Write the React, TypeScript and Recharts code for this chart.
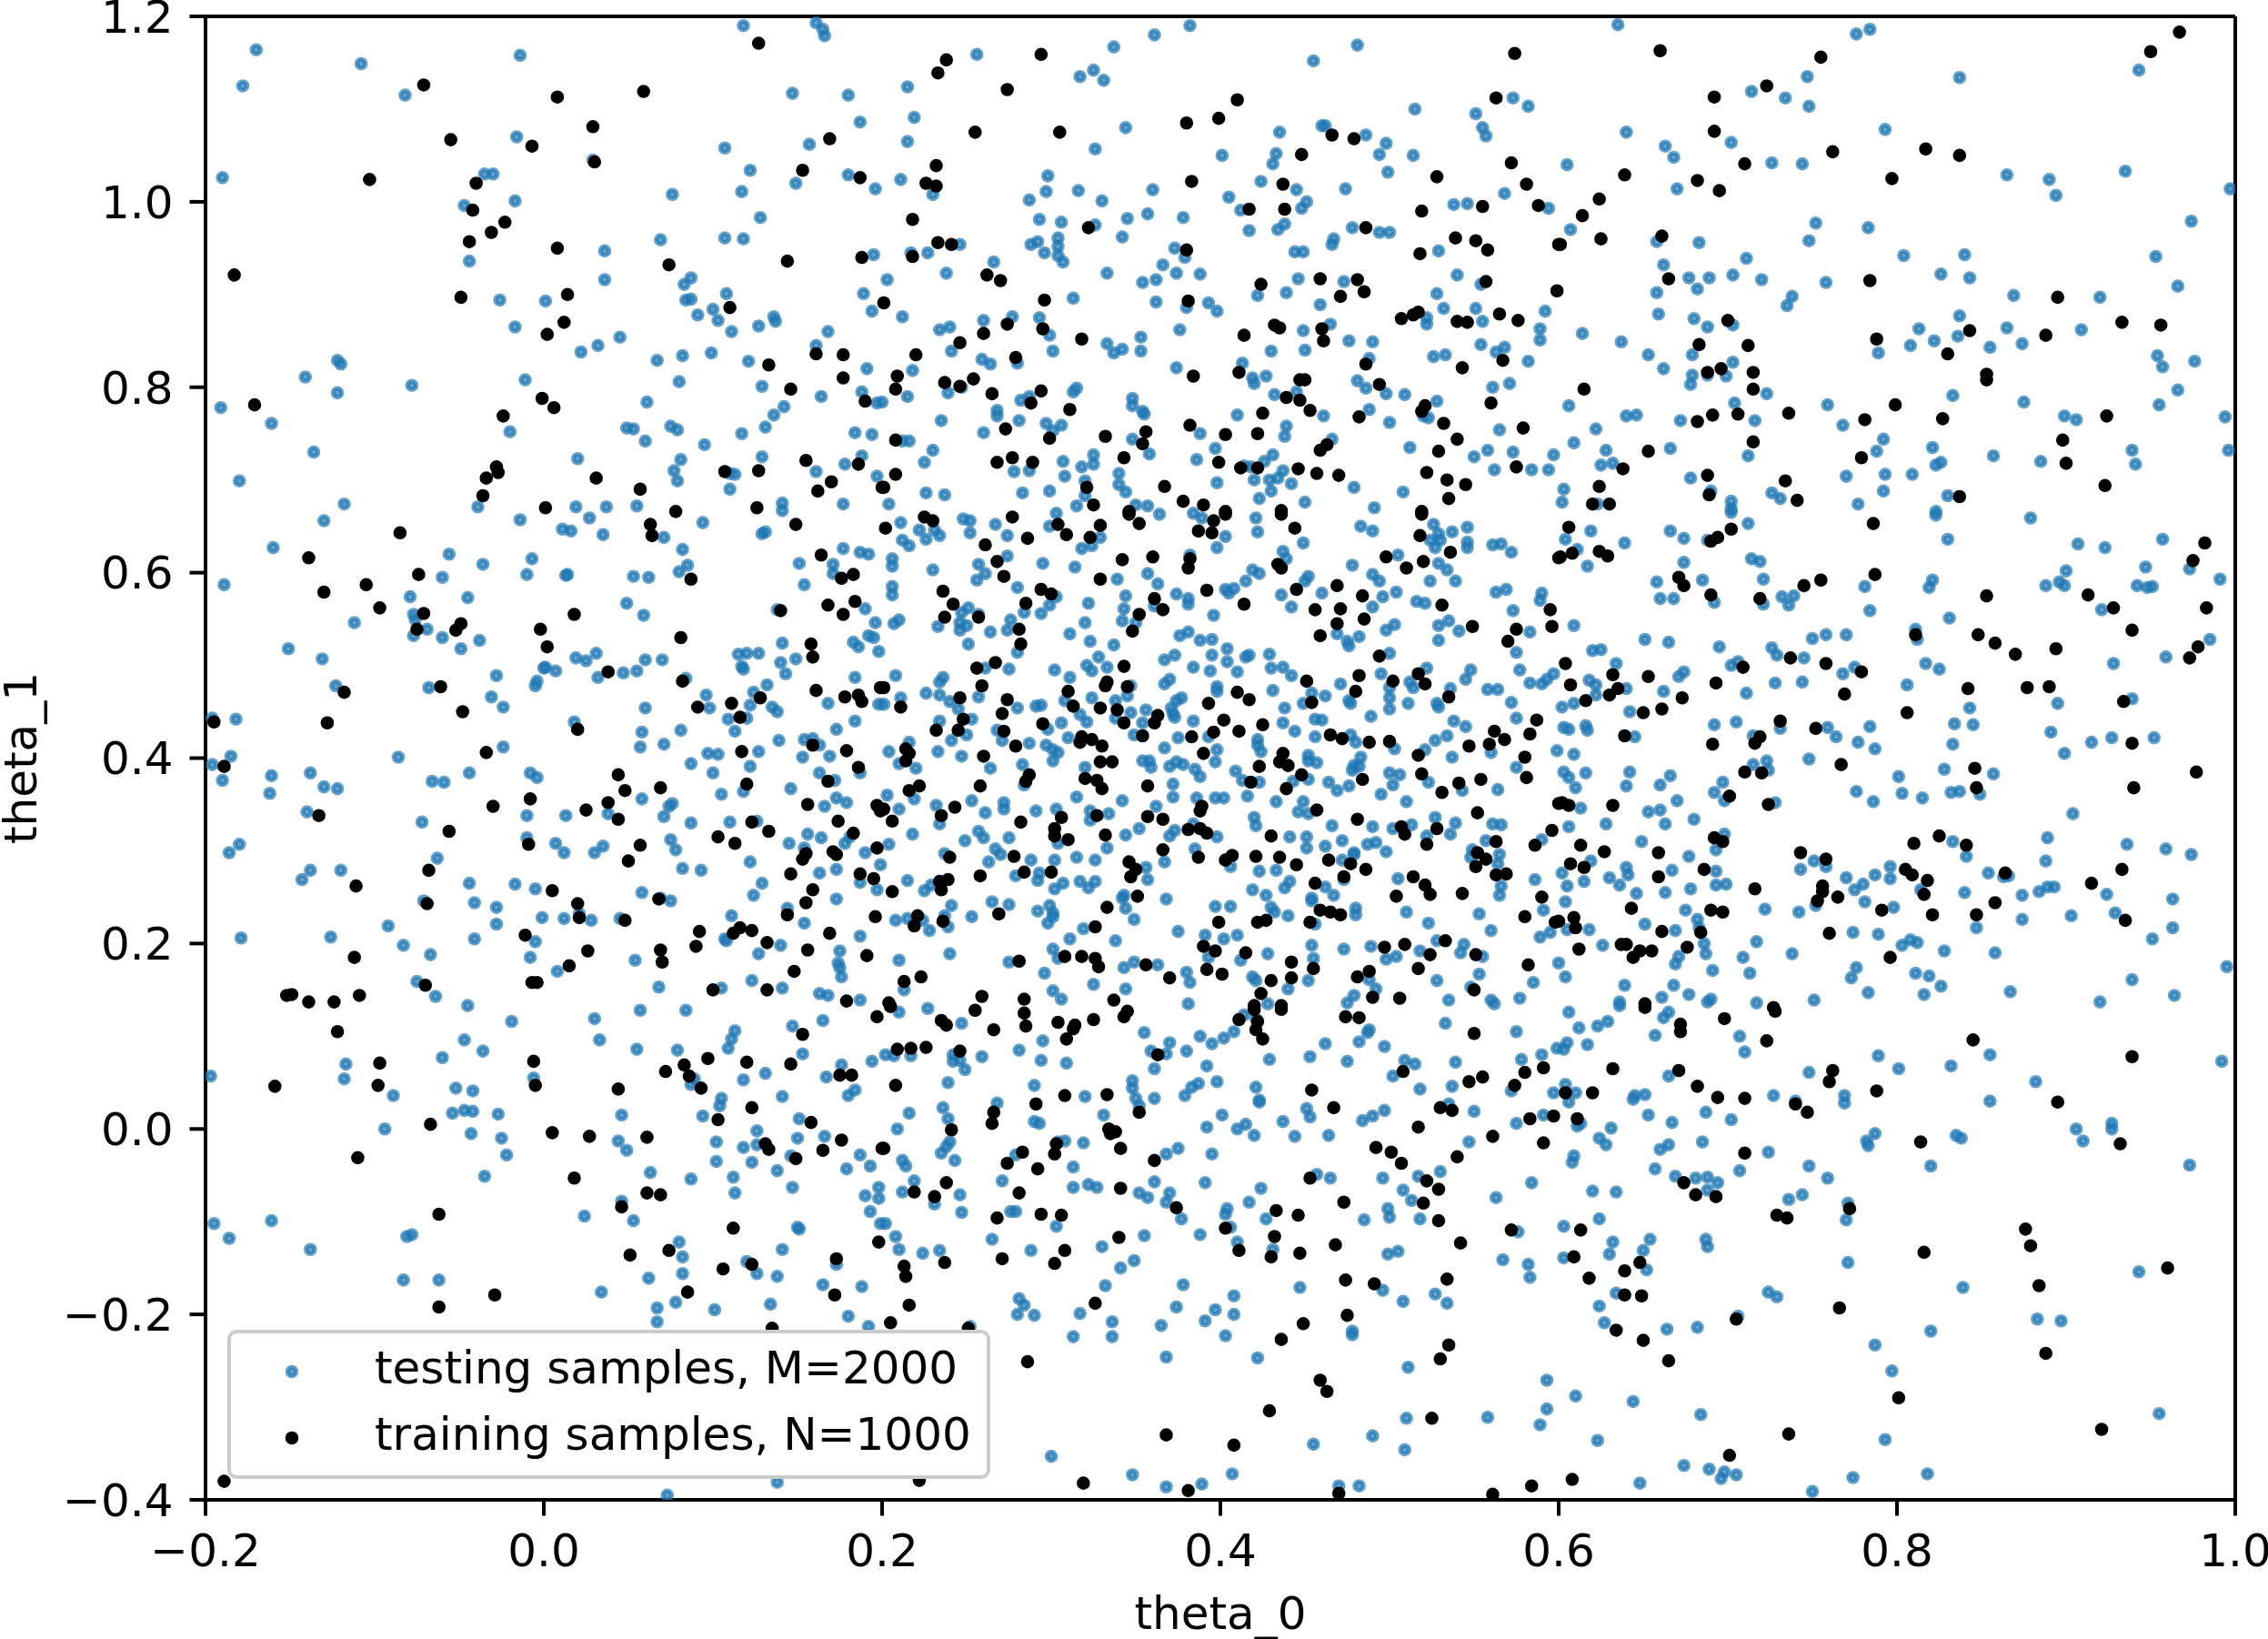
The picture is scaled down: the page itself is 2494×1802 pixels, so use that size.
import { ScatterChart, Scatter, XAxis, YAxis, Legend, ReferenceLine } from "recharts";

const xTicks = [-0.2, 0, 0.2, 0.4, 0.6, 0.8, 1];
const yTicks = [-0.4, -0.2, 0, 0.2, 0.4, 0.6, 0.8, 1, 1.2];
const testingLabel = "testing samples, M=2000";
const trainingLabel = "training samples, N=1000";

// samples, one list per region of the plot: [theta_0, theta_1]
const testingTopLeft = [[-.170,1.164],[-.178,1.125],[-.108,1.149],[-.082,1.115],[-.014,1.158],[.118,1.190],[.161,1.193],[.165,1.186],[.166,1.179],[.147,1.117],[.180,1.115],[.187,1.086],[-.016,1.070],[.107,1.058],[.157,1.062],[-.190,1.026],[-.035,1.030],[-.030,1.030],[.029,1.045],[.122,1.034],[.180,1.029],[.149,1.020],[.196,1.014],[.076,1.008],[.117,1.011],[-.047,.996],[-.017,1.001],[.128,.983],[.069,.959],[.107,.961],[.118,.960],[.036,.947],[-.044,.936],[.195,.943],[.036,.916],[.087,.918],[.083,.911],[-.026,.894],[.001,.893],[.084,.894],[.087,.895],[.108,.901],[.189,.901],[.100,.884],[.091,.878],[.103,.872],[.194,.882],[.136,.876],[.137,.871],[.127,.866],[-.017,.865],[.111,.860],[.168,.860],[.045,.854],[.032,.845],[.022,.838],[.161,.845],[.067,.829],[.082,.834],[.099,.837],[.121,.828],[-.122,.829],[-.120,.825],[.191,.820],[-.141,.811],[-.011,.808],[.080,.806],[-.078,.802],[-.122,.794],[.129,.801],[.188,.795],[.164,.790],[-.191,.778],[.061,.784],[.142,.779],[.197,.783],[-.161,.761],[.136,.770],[-.020,.752],[.049,.756],[.053,.755],[.075,.758],[.079,.754],[.131,.757],[.117,.750],[.184,.751],[.194,.749],[.060,.742],[.095,.738],[-.136,.730],[.020,.723],[.081,.722],[.129,.725],[.188,.726],[.178,.717],[.077,.710],[.161,.709],[.079,.699],[.110,.707],[.113,.706],[-.180,.699],[.197,.704],[.110,.690],[-.118,.674],[-.039,.671],[.019,.671],[.037,.671],[.055,.672],[.141,.675],[.177,.674],[.141,.667]];
const trainingTopLeft = [[.127,1.171],[-.071,1.126],[.008,1.113],[.059,1.119],[.029,1.081],[-.055,1.067],[-.007,1.060],[.169,1.068],[.030,1.043],[.153,1.034],[-.103,1.024],[.187,1.026],[-.040,1.020],[-.042,.991],[-.023,.978],[-.031,.967],[-.044,.957],[.008,.950],[.074,.932],[.144,.936],[.188,.940],[-.183,.921],[-.049,.897],[.014,.900],[.110,.886],[.012,.870],[.002,.857],[.161,.836],[.177,.835],[.133,.824],[.177,.810],[.146,.798],[.190,.785],[-.171,.781],[-.001,.788],[.006,.778],[-.024,.769],[-.028,.714],[-.027,.708],[-.034,.702],[-.036,.683],[.031,.702],[.057,.690],[.107,.709],[.127,.710],[.155,.721],[.186,.717],[.170,.698],[.162,.688],[.200,.692],[.001,.670],[.078,.666],[.126,.670],[.201,.891]];

const testingTopMid = [[.382,1.190],[.361,1.180],[.337,1.167],[.256,1.159],[.481,1.169],[.455,1.152],[.325,1.142],[.317,1.135],[.331,1.131],[.215,1.124],[.219,1.091],[.344,1.080],[.515,1.100],[.573,1.112],[.582,1.103],[.551,1.095],[.460,1.082],[.462,1.082],[.435,1.075],[.486,1.072],[.555,1.080],[.557,1.071],[.215,1.065],[.326,1.057],[.401,1.050],[.498,1.063],[.494,1.051],[.514,1.050],[.433,1.052],[.431,1.041],[.499,1.032],[.211,1.024],[.298,1.028],[.424,1.022],[.297,1.011],[.316,1.012],[.360,1.013],[.445,1.013],[.474,1.014],[.230,1.008],[.287,1.002],[.330,1.001],[.405,1.005],[.451,1.0],[.448,.993],[.568,1.009],[.538,.997],[.546,.998],[.412,.991],[.594,.993],[.293,.981],[.306,.978],[.345,.982],[.357,.987],[.378,.983],[.326,.975],[.438,.976],[.417,.969],[.434,.970],[.478,.972],[.494,.967],[.500,.967],[.342,.962],[.304,.961],[.292,.957],[.288,.954],[.246,.954],[.304,.952],[.373,.950],[.467,.960],[.466,.954],[.296,.945],[.304,.942],[.217,.945],[.227,.945],[.444,.946],[.449,.946],[.379,.940],[.529,.947],[.307,.935],[.266,.935],[.366,.932],[.238,.923],[.333,.923],[.374,.923],[.388,.922],[.203,.916],[.362,.916],[.354,.913],[.446,.917],[.473,.914],[.540,.921],[.554,.911],[.422,.899],[.439,.902],[.528,.901],[.313,.896],[.362,.892],[.393,.891],[.459,.889],[.380,.886],[.398,.882],[.532,.885],[.551,.885],[.592,.882],[.212,.876],[.260,.872],[.277,.876],[.293,.875],[.522,.875],[.522,.868],[.465,.868],[.555,.871],[.240,.865],[.234,.862],[.376,.862],[.449,.861],[.589,.863],[.299,.856],[.353,.854],[.476,.850],[.490,.849],[.589,.851],[.333,.847],[.241,.839],[.301,.839],[.342,.841],[.337,.837],[.353,.839],[.430,.839],[.450,.840],[.554,.846],[.568,.843],[.563,.838],[.259,.830],[.264,.825],[.526,.833],[.533,.835],[.280,.826],[.413,.826],[.488,.831],[.582,.828],[.218,.818],[.374,.821],[.427,.812],[.419,.810],[.420,.804],[.481,.807],[.486,.799],[.571,.804],[.561,.800],[.315,.799],[.313,.795],[.247,.800],[.239,.794],[.215,.790],[.2,.784],[.445,.795],[.432,.792],[.498,.793],[.509,.792],[.287,.790],[.282,.786],[.348,.788],[.348,.780],[.528,.785],[.268,.775],[.268,.769],[.354,.774],[.355,.771],[.488,.776],[.410,.770],[.461,.769],[.520,.769],[.523,.767],[.235,.764],[.281,.764],[.297,.761],[.306,.759],[.500,.762],[.439,.758],[.301,.753],[.260,.751],[.388,.750],[.565,.754],[.438,.747],[.348,.744],[.212,.742],[.216,.742],[.466,.744],[.230,.732],[.397,.734],[.512,.735],[.558,.732],[.573,.730],[.325,.727],[.358,.728],[.431,.727],[.550,.725],[.597,.727],[.225,.719],[.307,.720],[.325,.717],[.386,.722],[.426,.720],[.414,.715],[.418,.714],[.318,.714],[.437,.710],[.278,.709],[.287,.710],[.308,.704],[.340,.707],[.562,.711],[.584,.711],[.594,.711],[.420,.700],[.429,.700],[.434,.702],[.442,.696],[.398,.697],[.320,.699],[.340,.695],[.344,.687],[.226,.686],[.237,.684],[.283,.686],[.299,.688],[.320,.683],[.479,.692],[.508,.687],[.430,.688],[.423,.680],[.450,.676],[.204,.674],[.315,.672],[.350,.673],[.357,.672],[.491,.670]];
const trainingTopMid = [[.238,1.153],[.233,1.139],[.294,1.159],[.574,1.160],[.274,1.121],[.410,1.110],[.563,1.112],[.399,1.090],[.380,1.085],[.255,1.075],[.305,1.075],[.466,1.072],[.479,1.068],[.448,1.051],[.572,1.042],[.232,1.039],[.528,1.027],[.383,1.022],[.226,1.020],[.232,1.017],[.437,1.019],[.581,1.019],[.417,.992],[.438,.992],[.555,.995],[.588,.996],[.519,.990],[.218,.981],[.322,.972],[.486,.972],[.233,.956],[.241,.954],[.539,.961],[.551,.958],[.380,.948],[.558,.948],[.518,.944],[.218,.941],[.600,.954],[.262,.921],[.270,.915],[.459,.917],[.481,.916],[.424,.911],[.557,.914],[.485,.903],[.471,.898],[.296,.894],[.381,.893],[.599,.904],[.507,.874],[.514,.878],[.517,.881],[.565,.879],[.576,.872],[.540,.871],[.546,.870],[.274,.868],[.295,.863],[.432,.867],[.435,.864],[.460,.863],[.260,.858],[.414,.856],[.318,.852],[.461,.850],[.246,.848],[.220,.835],[.279,.832],[.567,.829],[.486,.825],[.543,.821],[.411,.816],[.209,.812],[.384,.812],[.254,.809],[.237,.805],[.246,.801],[.447,.808],[.450,.808],[.494,.803],[.208,.798],[.294,.796],[.265,.793],[.439,.789],[.447,.786],[.288,.783],[.560,.783],[.311,.776],[.453,.775],[.521,.780],[.519,.774],[.425,.772],[.482,.768],[.532,.761],[.382,.759],[.273,.755],[.579,.756],[.356,.752],[.403,.749],[.422,.750],[.332,.747],[.299,.745],[.540,.744],[.208,.743],[.354,.739],[.463,.738],[.459,.732],[.529,.731],[.343,.724],[.277,.724],[.268,.719],[.289,.719],[.399,.719],[.412,.713],[.422,.713],[.446,.712],[.208,.706],[.457,.707],[.470,.705],[.522,.708],[.575,.714],[.534,.700],[.545,.695],[.321,.692],[.367,.693],[.201,.692],[.535,.680],[.378,.677],[.390,.673],[.325,.673],[.346,.666],[.403,.666],[.436,.667],[.519,.666]];

const testingTopRight = [[.635,1.191],[.776,1.181],[.784,1.186],[.747,1.135],[.837,1.134],[.943,1.142],[.714,1.119],[.734,1.112],[.748,1.103],[.640,1.075],[.793,1.078],[.702,1.064],[.663,1.060],[.668,1.048],[.605,1.040],[.726,1.042],[.744,1.041],[.865,1.029],[.890,1.024],[.935,1.033],[.894,1.007],[.670,1.014],[.997,1.014],[.974,.979],[.752,.977],[.783,.972],[.607,.970],[.748,.958],[.658,.957],[.683,.956],[.711,.939],[.804,.942],[.840,.943],[.953,.941],[.662,.932],[.826,.922],[.843,.918],[.677,.918],[.689,.918],[.703,.921],[.720,.916],[.758,.913],[.966,.909],[.682,.906],[.658,.902],[.738,.898],[.735,.888],[.869,.899],[.920,.897],[.659,.879],[.680,.874],[.837,.877],[.688,.865],[.703,.867],[.614,.858],[.813,.863],[.865,.864],[.909,.862],[.637,.849],[.822,.850],[.836,.855],[.808,.845],[.855,.843],[.874,.847],[.653,.835],[.679,.835],[.789,.837],[.954,.834],[.976,.828],[.703,.827],[.662,.820],[.957,.822],[.679,.813],[.688,.813],[.699,.812],[.678,.803],[.966,.797],[.723,.793],[.833,.791],[.606,.780],[.704,.783],[.759,.781],[.875,.784],[.955,.781],[.640,.769],[.646,.770],[.672,.764],[.716,.764],[.899,.769],[.906,.765],[.994,.768],[.768,.759],[.622,.755],[.792,.744],[.609,.740],[.628,.732],[.666,.734],[.712,.726],[.788,.731],[.821,.735],[.857,.726],[.885,.720],[.939,.732],[.996,.732],[.826,.719],[.823,.716],[.941,.717],[.625,.716],[.632,.718],[.678,.702],[.770,.704],[.793,.706],[.809,.706],[.603,.690],[.690,.688],[.726,.686],[.731,.680],[.792,.688],[.830,.683],[.702,.677],[.777,.674],[.623,.674],[.602,.676],[.823,.666],[.702,.669]];
const trainingTopRight = [[.967,1.183],[.950,1.162],[.660,1.163],[.755,1.156],[.723,1.125],[.692,1.113],[.692,1.076],[.762,1.054],[.817,1.057],[.837,1.050],[.710,1.041],[.639,1.029],[.797,1.025],[.682,1.023],[.695,1.012],[.624,1.003],[.614,.985],[.661,.963],[.625,.960],[.601,.954],[.784,.915],[.665,.917],[.895,.897],[.933,.870],[.956,.867],[.700,.872],[.843,.861],[.788,.852],[.888,.856],[.683,.846],[.712,.845],[.830,.836],[.696,.820],[.688,.816],[.715,.816],[.853,.814],[.853,.808],[.615,.798],[.715,.798],[.799,.781],[.736,.772],[.691,.770],[.706,.771],[.682,.763],[.781,.765],[.827,.766],[.924,.769],[.898,.743],[.715,.741],[.653,.731],[.779,.724],[.900,.718],[.638,.712],[.688,.705],[.734,.699],[.624,.693],[.923,.694],[.689,.684],[.741,.678],[.837,.682],[.620,.674],[.630,.674]];

const testingMidLeft = [[-.130,.656],[-.014,.657],[.011,.647],[.016,.645],[.027,.659],[.035,.641],[.094,.654],[.071,.638],[.129,.642],[.131,.644],[.082,.625],[-.160,.627],[-.056,.620],[-.036,.609],[-.007,.615],[.177,.626],[.187,.622],[.192,.620],[.151,.610],[.171,.609],[.085,.608],[.080,.601],[.171,.599],[-.189,.587],[-.060,.595],[-.010,.598],[.013,.597],[.014,.598],[.053,.596],[.062,.595],[.154,.587],[-.079,.574],[-.045,.573],[.049,.567],[.059,.554],[.190,.561],[.138,.560],[-.077,.555],[-.076,.549],[-.112,.546],[-.069,.539],[-.077,.532],[-.060,.530],[-.038,.527],[-.049,.518],[-.151,.518],[.196,.546],[.192,.532],[.195,.530],[.183,.525],[.186,.520],[.141,.524],[.198,.515],[.115,.512],[.120,.513],[.127,.513],[.031,.513],[.019,.508],[.025,.505],[-.131,.507],[.060,.506],[.070,.506],[.149,.507],[.140,.503],[.117,.499],[.118,.496],[0,.497],[.001,.498],[.007,.494],[.047,.492],[.055,.494],[.143,.491],[-.028,.489],[.032,.487],[.084,.486],[.184,.487],[-.004,.483],[-.005,.478],[-.123,.478],[-.068,.476],[.132,.479],[-.031,.466],[.096,.468],[.124,.471],[-.024,.455],[.060,.454],[.098,.454],[.122,.457],[.135,.455],[.138,.450],[.168,.459],[.198,.458],[-.182,.442],[-.196,.443],[.018,.439],[.109,.442],[.120,.443],[.184,.440],[.058,.428],[.081,.430],[.113,.429],[.173,.431],[.139,.419],[.154,.420],[.159,.421],[.163,.414],[.057,.412],[.071,.415],[-.024,.412],[.097,.405],[.103,.404],[.127,.407],[.153,.401],[.169,.402],[-.185,.402],[-.086,.401],[-.196,.393],[.122,.391],[.087,.394],[-.138,.384],[-.044,.384],[-.008,.384],[-.004,.379],[-.161,.381],[.100,.384],[.163,.384],[.187,.384],[-.190,.376],[-.066,.375],[-.059,.374],[.172,.376],[-.130,.369],[-.122,.367],[-.162,.362],[.146,.367],[.105,.361],[.118,.364],[.058,.356],[.076,.351],[.074,.348],[.173,.357],[.179,.352],[.166,.348],[-.140,.342],[-.010,.338],[.013,.338],[.038,.340],[.071,.337],[-.072,.331],[.087,.330],[.110,.331],[.126,.332],[-.010,.314],[.156,.318],[.164,.314],[.075,.312],[-.180,.307],[-.186,.298],[.007,.308],[.012,.298],[.035,.305],[.030,.298],[.078,.301],[.145,.308],[.181,.315],[.178,.308],[.190,.298],[.154,.303],[-.063,.292],[.122,.288],[-.138,.279],[-.120,.279],[-.143,.269],[.082,.281],[.093,.279],[.199,.285],[.173,.280],[.163,.276],[-.044,.265],[-.017,.264],[-.005,.259],[.129,.265],[.187,.266],[.197,.258],[.058,.255],[.124,.252],[.173,.248],[-.071,.246],[-.041,.244],[.069,.249],[.075,.246],[-.028,.239],[.144,.238],[-.001,.228],[.012,.227],[.021,.232],[.028,.225],[.045,.227],[.111,.230],[-.092,.219],[-.028,.221],[.154,.222],[-.179,.206],[-.126,.207],[-.041,.205],[-.005,.202],[.187,.208],[.107,.205],[.108,.203],[.140,.198],[-.083,.198],[-.067,.188],[-.008,.185],[.054,.182],[.127,.189],[.175,.192],[.174,.179],[.175,.174],[.176,.164],[.008,.170],[-.075,.159],[.068,.153],[.105,.152],[.123,.160],[.141,.152],[-.064,.143],[.163,.146],[.168,.144],[.187,.139],[-.045,.133]];
const trainingMidLeft = [[-.085,.643],[.063,.652],[.064,.640],[.149,.652],[.164,.619],[-.139,.616],[-.074,.598],[.087,.593],[.176,.594],[.183,.598],[-.105,.587],[-.130,.579],[.184,.569],[.168,.565],[-.097,.562],[.140,.559],[.018,.555],[-.071,.556],[.177,.555],[-.049,.545],[-.052,.538],[-.075,.539],[-.002,.539],[.002,.520],[.081,.530],[.158,.523],[.159,.509],[.038,.493],[.082,.483],[-.061,.477],[-.118,.471],[.161,.473],[.199,.476],[.178,.466],[.186,.468],[.188,.461],[.128,.465],[.111,.459],[.091,.455],[-.048,.450],[.116,.444],[-.195,.439],[-.128,.438],[.020,.431],[.159,.414],[.117,.407],[.179,.408],[-.034,.406],[-.189,.391],[.186,.390],[.044,.382],[.168,.375],[.120,.372],[.048,.365],[.069,.368],[-.008,.356],[.038,.352],[.156,.350],[-.030,.348],[.025,.344],[.197,.349],[-.133,.338],[.044,.334],[.199,.343],[.123,.331],[.174,.332],[-.056,.321],[.133,.321],[.183,.319],[.103,.315],[.113,.308],[-.009,.307],[.057,.306],[.197,.303],[.155,.297],[.153,.291],[.171,.299],[.173,.296],[.050,.289],[-.068,.279],[.146,.275],[.187,.275],[.195,.270],[-.111,.262],[.005,.257],[.159,.258],[.068,.248],[-.069,.243],[.020,.243],[.155,.244],[.144,.231],[.021,.228],[.048,.225],[.196,.229],[.092,.213],[.116,.217],[.112,.211],[.123,.214],[.169,.211],[-.011,.209],[.090,.197],[.132,.201],[.069,.193],[.026,.192],[.156,.193],[.191,.187],[-.112,.185],[.070,.180],[.015,.176],[.148,.170],[-.007,.158],[-.004,.158],[-.070,.155],[.100,.150],[.132,.150],[-.152,.144],[-.149,.145],[-.109,.144],[-.139,.137],[-.124,.137],[.179,.138]];

const testingCenter = [[.211,.654],[.222,.646],[.231,.646],[.234,.640],[.248,.658],[.252,.656],[.252,.643],[.267,.652],[.274,.640],[.212,.635],[.216,.629],[.226,.636],[.299,.650],[.303,.664],[.329,.638],[.324,.629],[.318,.626],[.364,.663],[.384,.664],[.389,.659],[.403,.639],[.398,.627],[.421,.659],[.422,.644],[.449,.632],[.483,.650],[.490,.645],[.526,.652],[.529,.642],[.524,.635],[.530,.635],[.537,.644],[.546,.649],[.546,.633],[.546,.627],[.561,.630],[.566,.631],[.572,.622],[.527,.627],[.206,.615],[.206,.607],[.230,.603],[.257,.609],[.274,.618],[.295,.610],[.314,.606],[.261,.599],[.256,.592],[.382,.619],[.357,.599],[.363,.588],[.339,.593],[.437,.623],[.439,.615],[.505,.619],[.478,.608],[.529,.610],[.534,.603],[.490,.598],[.494,.591],[.419,.603],[.423,.599],[.415,.591],[.452,.596],[.450,.591],[.524,.591],[.539,.591],[.206,.585],[.206,.576],[.280,.584],[.403,.582],[.408,.583],[.405,.578],[.374,.577],[.344,.575],[.381,.572],[.381,.566],[.436,.576],[.460,.578],[.496,.574],[.504,.579],[.563,.579],[.569,.582],[.590,.578],[.589,.570],[.303,.574],[.299,.565],[.322,.567],[.516,.569],[.521,.567],[.490,.563],[.442,.563],[.343,.561],[.361,.564],[.396,.554],[.251,.562],[.247,.557],[.257,.555],[.284,.557],[.294,.556],[.573,.559],[.342,.548],[.350,.546],[.320,.546],[.276,.549],[.274,.538],[.207,.545],[.210,.549],[.233,.542],[.246,.546],[.250,.543],[.246,.538],[.264,.536],[.529,.543],[.535,.548],[.541,.537],[.498,.538],[.503,.544],[.583,.536],[.311,.534],[.376,.532],[.381,.536],[.469,.534],[.482,.531],[.323,.526],[.337,.522],[.388,.527],[.395,.528],[.475,.526],[.476,.521],[.529,.527],[.251,.523],[.280,.514],[.404,.518],[.500,.513],[.575,.514],[.395,.511],[.373,.511],[.367,.506],[.417,.511],[.415,.509],[.429,.512],[.328,.509],[.404,.504],[.321,.500],[.324,.494],[.333,.498],[.384,.498],[.275,.496],[.261,.497],[.302,.495],[.394,.494],[.430,.497],[.437,.498],[.522,.497],[.410,.493],[.548,.495],[.442,.489],[.495,.491],[.208,.489],[.311,.487],[.577,.495],[.597,.491],[.236,.487],[.234,.482],[.545,.485],[.370,.485],[.367,.480],[.471,.480],[.583,.481],[.590,.480],[.593,.485],[.512,.482],[.514,.476],[.398,.477],[.398,.472],[.500,.476],[.431,.473],[.558,.474],[.564,.474],[.536,.475],[.347,.478],[.454,.470],[.226,.470],[.234,.468],[.211,.465],[.240,.461],[.257,.466],[.324,.465],[.338,.462],[.345,.467],[.377,.465],[.374,.462],[.462,.467],[.500,.465],[.476,.462],[.477,.459],[.572,.460],[.308,.462],[.449,.459],[.511,.459],[.528,.459],[.529,.455],[.291,.456],[.294,.457],[.280,.454],[.245,.453],[.201,.458],[.438,.454],[.500,.453],[.356,.452],[.371,.454],[.372,.448],[.373,.444],[.317,.447],[.347,.449],[.489,.445],[.234,.440],[.338,.443],[.321,.439],[.306,.438],[.384,.440],[.456,.442],[.460,.441],[.538,.440],[.575,.443],[.253,.442],[.437,.438],[.354,.438],[.545,.434],[.268,.430],[.298,.431],[.444,.429],[.250,.425],[.310,.422],[.349,.425],[.375,.422],[.393,.423],[.422,.420],[.422,.414],[.456,.423],[.477,.425],[.534,.424],[.527,.419],[.241,.419],[.271,.419],[.216,.417],[.480,.417],[.287,.416],[.297,.414],[.521,.409],[.398,.409],[.301,.409],[.304,.406],[.367,.411],[.424,.407],[.503,.410],[.560,.406],[.204,.407],[.233,.407],[.599,.408],[.247,.402],[.537,.401],[.452,.403],[.452,.397],[.483,.401],[.354,.397],[.358,.397],[.374,.396],[.397,.396],[.301,.397],[.210,.394],[.370,.391],[.378,.393],[.359,.390],[.457,.395],[.479,.392],[.482,.391],[.478,.387],[.575,.390],[.283,.393],[.220,.389],[.264,.389],[.320,.390],[.409,.386],[.385,.388],[.388,.380],[.500,.384],[.506,.382],[.413,.376],[.423,.374],[.452,.377],[.443,.375],[.523,.374],[.372,.372],[.464,.374],[.476,.370],[.469,.365],[.502,.371],[.284,.371],[.543,.365],[.564,.366],[.495,.361],[.203,.360],[.315,.358],[.342,.354],[.372,.358],[.386,.357],[.397,.357],[.402,.357],[.416,.359],[.433,.353],[.510,.353],[.219,.356],[.253,.354],[.232,.349],[.210,.345],[.272,.352],[.272,.345],[.362,.348],[.291,.343],[.303,.345],[.261,.341],[.323,.343],[.334,.340],[.449,.353],[.446,.342],[.452,.340],[.527,.336],[.420,.336],[.421,.327],[.234,.329],[.323,.333],[.466,.327],[.490,.326],[.502,.324],[.513,.328],[.539,.330],[.561,.329],[.566,.328],[.352,.324],[.373,.322],[.370,.316],[.384,.329],[.398,.315],[.218,.318],[.257,.321],[.260,.314],[.275,.314],[.344,.317],[.441,.315],[.451,.315],[.536,.318],[.522,.316],[.590,.312],[.249,.311],[.204,.307],[.304,.308],[.472,.311],[.462,.305],[.487,.307],[.492,.309],[.557,.311],[.451,.303],[.498,.299],[.267,.302],[.270,.296],[.333,.303],[.385,.302],[.479,.298],[.479,.296],[.549,.301],[.565,.296],[.237,.297],[.315,.293],[.288,.290],[.302,.290],[.326,.290],[.263,.288],[.367,.288],[.472,.290],[.548,.293],[.564,.286],[.406,.283],[.356,.282],[.423,.278],[.433,.279],[.293,.276],[.279,.273],[.292,.268],[.505,.270],[.586,.269],[.215,.268],[.357,.269],[.317,.267],[.326,.267],[.441,.267],[.307,.265],[.473,.269],[.225,.257],[.229,.263],[.322,.260],[.302,.259],[.438,.260],[.462,.261],[.419,.258],[.566,.262],[.565,.252],[.467,.252],[.427,.252],[.343,.252],[.342,.249],[.368,.248],[.454,.249],[.454,.246],[.265,.245],[.275,.242],[.241,.241],[.299,.241],[.397,.240],[.406,.240],[.430,.239],[.344,.238],[.480,.238],[.480,.231],[.253,.229],[.292,.235],[.301,.233],[.301,.229],[.237,.230],[.432,.234],[.440,.230],[.510,.234],[.553,.232],[.591,.236],[.208,.225],[.215,.227],[.224,.225],[.349,.226],[.456,.221],[.298,.222],[.523,.222],[.239,.218],[.228,.214],[.319,.216],[.375,.213],[.560,.214],[.595,.212],[.391,.209],[.410,.209],[.402,.205],[.311,.205],[.338,.203],[.589,.207],[.528,.203],[.301,.194],[.454,.198],[.473,.194],[.489,.197],[.544,.199],[.518,.192],[.240,.189],[.428,.189],[.542,.190],[.304,.184],[.504,.186],[.498,.183],[.555,.186],[.393,.185],[.412,.182],[.455,.184],[.210,.182],[.275,.180],[.343,.174],[.349,.180],[.363,.177],[.296,.168],[.380,.169],[.382,.158],[.553,.167],[.419,.164],[.421,.160],[.488,.161],[.452,.160],[.528,.160],[.585,.158],[.325,.156],[.344,.151],[.301,.149],[.306,.140],[.213,.150],[.440,.151],[.492,.151],[.479,.144],[.548,.153],[.577,.141],[.535,.139],[.560,.139],[.562,.135],[.475,.136],[.381,.135],[.428,.135]];
const trainingCenter = [[.202,.648],[.225,.660],[.230,.656],[.277,.660],[.304,.652],[.309,.641],[.329,.651],[.323,.638],[.346,.663],[.352,.653],[.387,.645],[.395,.643],[.396,.656],[.403,.663],[.436,.663],[.444,.648],[.519,.663],[.518,.640],[.286,.637],[.261,.630],[.536,.622],[.342,.614],[.360,.617],[.382,.615],[.381,.605],[.268,.612],[.498,.617],[.510,.605],[.520,.612],[.434,.609],[.436,.605],[.600,.616],[.272,.596],[.329,.593],[.236,.580],[.294,.582],[.300,.577],[.392,.581],[.445,.582],[.469,.586],[.484,.575],[.361,.572],[.242,.566],[.285,.567],[.414,.566],[.531,.565],[.366,.560],[.456,.560],[.471,.561],[.595,.560],[.237,.552],[.257,.552],[.352,.555],[.485,.550],[.469,.545],[.596,.542],[.281,.539],[.348,.537],[.549,.542],[.575,.539],[.459,.532],[.570,.526],[.282,.523],[.494,.510],[.267,.503],[.256,.497],[.343,.499],[.517,.491],[.521,.480],[.482,.489],[.333,.482],[.332,.478],[.451,.483],[.502,.483],[.259,.478],[.345,.477],[.201,.476],[.310,.472],[.410,.471],[.480,.472],[.417,.463],[.535,.466],[.246,.465],[.274,.463],[.454,.460],[.313,.456],[.393,.459],[.211,.455],[.329,.454],[.339,.452],[.271,.448],[.363,.446],[.361,.438],[.248,.442],[.402,.441],[.343,.438],[.587,.441],[.295,.437],[.425,.436],[.232,.430],[.245,.430],[.272,.429],[.411,.429],[.562,.429],[.396,.428],[.583,.426],[.354,.424],[.383,.423],[.465,.425],[.472,.421],[.318,.423],[.317,.417],[.324,.420],[.568,.420],[.559,.415],[.488,.417],[.500,.418],[.279,.413],[.330,.413],[.547,.413],[.214,.410],[.216,.405],[.214,.397],[.437,.405],[.390,.405],[.260,.402],[.517,.403],[.580,.401],[.329,.396],[.336,.396],[.435,.396],[.440,.392],[.423,.391],[.287,.382],[.285,.375],[.448,.382],[.519,.383],[.581,.379],[.320,.378],[.327,.376],[.330,.367],[.484,.377],[.418,.374],[.554,.377],[.541,.373],[.258,.370],[.222,.370],[.216,.365],[.357,.370],[.439,.367],[.531,.363],[.243,.347],[.389,.348],[.388,.343],[.457,.344],[.201,.345],[.600,.351],[.235,.338],[.327,.338],[.552,.341],[.357,.337],[.366,.334],[.306,.336],[.481,.334],[.206,.332],[.282,.331],[.302,.324],[.302,.316],[.507,.326],[.509,.318],[.528,.324],[.381,.323],[.388,.324],[.392,.319],[.332,.317],[.596,.322],[.430,.316],[.310,.312],[.563,.310],[.586,.306],[.522,.307],[.366,.301],[.552,.298],[.557,.291],[.551,.283],[.240,.293],[.278,.294],[.387,.293],[.421,.294],[.435,.293],[.407,.295],[.403,.290],[.346,.288],[.350,.280],[.464,.290],[.477,.286],[.486,.280],[.445,.285],[.284,.277],[.300,.277],[.347,.272],[.258,.273],[.473,.272],[.514,.272],[.563,.274],[.569,.275],[.239,.269],[.234,.267],[.235,.258],[.456,.265],[.521,.263],[.524,.253],[.206,.256],[.543,.254],[.351,.251],[.504,.251],[.590,.250],[.333,.239],[.269,.232],[.459,.236],[.465,.234],[.471,.231],[.221,.230],[.219,.219],[.580,.229],[.236,.224],[.399,.223],[.422,.223],[.427,.225],[.453,.223],[.598,.223],[.326,.218],[.533,.203],[.390,.197],[.397,.192],[.497,.196],[.509,.199],[.415,.190],[.524,.188],[.551,.188],[.318,.186],[.308,.186],[.326,.184],[.328,.175],[.281,.181],[.442,.180],[.582,.177],[.356,.177],[.455,.173],[.517,.173],[.392,.172],[.401,.167],[.488,.170],[.481,.164],[.223,.164],[.370,.163],[.442,.163],[.213,.159],[.430,.160],[.550,.150],[.424,.146],[.259,.143],[.284,.140],[.337,.139],[.490,.142],[.506,.141],[.204,.136],[.420,.133],[.436,.133]];

const testingMidRight = [[.619,.645],[.604,.636],[.611,.625],[.639,.632],[.666,.645],[.674,.637],[.688,.635],[.712,.653],[.702,.665],[.823,.662],[.879,.659],[.830,.636],[.907,.631],[.923,.627],[.957,.636],[.617,.607],[.674,.611],[.714,.615],[.719,.612],[.900,.602],[.947,.606],[.973,.604],[.658,.590],[.685,.592],[.721,.593],[.821,.592],[.819,.584],[.781,.585],[.888,.586],[.896,.590],[.899,.586],[.942,.586],[.948,.584],[.951,.585],[.991,.593],[.660,.572],[.668,.572],[.692,.568],[.721,.566],[.732,.574],[.739,.575],[.736,.565],[.921,.560],[.784,.559],[.831,.551],[.609,.543],[.651,.528],[.665,.525],[.695,.520],[.750,.529],[.758,.533],[.770,.533],[.811,.539],[.812,.528],[.985,.528],[.620,.516],[.625,.517],[.726,.519],[.729,.511],[.745,.508],[.959,.509],[.634,.502],[.928,.502],[.702,.500],[.706,.504],[.817,.502],[.825,.496],[.775,.498],[.768,.491],[.618,.484],[.622,.479],[.671,.488],[.674,.493],[.728,.481],[.744,.482],[.806,.479],[.622,.468],[.640,.475],[.662,.472],[.711,.470],[.939,.464],[.895,.459],[.609,.459],[.602,.455],[.642,.450],[.843,.454],[.692,.436],[.705,.439],[.834,.437],[.845,.436],[.759,.433],[.784,.434],[.731,.432],[.603,.433],[.606,.431],[.616,.435],[.617,.430],[.891,.428],[.645,.423],[.715,.424],[.764,.423],[.927,.422],[.915,.417],[.952,.422],[.777,.417],[.833,.415],[.787,.410],[.609,.404],[.899,.405],[.748,.399],[.715,.393],[.723,.397],[.724,.387],[.603,.385],[.606,.379],[.616,.384],[.642,.385],[.666,.381],[.828,.388],[.857,.383],[.801,.380],[.660,.371],[.640,.370],[.610,.368],[.697,.374],[.692,.363],[.776,.364],[.803,.362],[.832,.363],[.837,.364],[.698,.354],[.728,.352],[.670,.354],[.786,.353],[.815,.357],[.849,.361],[.613,.346],[.653,.342],[.660,.344],[.904,.340],[.680,.334],[.663,.329],[.628,.329],[.606,.326],[.698,.318],[.833,.310],[.889,.314],[.649,.310],[.936,.307],[.959,.302],[.974,.296],[.693,.301],[.677,.294],[.841,.294],[.888,.289],[.619,.289],[.751,.289],[.758,.283],[.743,.280],[.640,.282],[.641,.274],[.693,.278],[.667,.279],[.796,.283],[.796,.270],[.854,.276],[.863,.272],[.866,.273],[.602,.276],[.630,.271],[.787,.274],[.770,.271],[.615,.267],[.636,.263],[.780,.264],[.775,.258],[.605,.262],[.693,.263],[.699,.264],[.678,.259],[.889,.261],[.893,.261],[.884,.256],[.814,.258],[.840,.255],[.663,.255],[.646,.254],[.924,.253],[.874,.252],[.963,.248],[.604,.245],[.781,.245],[.752,.241],[.798,.239],[.722,.237],[.742,.234],[.675,.236],[.903,.230],[.929,.233],[.682,.226],[.874,.226],[.963,.217],[.651,.221],[.847,.217],[.683,.217],[.605,.215],[.618,.215],[.669,.214],[.774,.212],[.789,.210],[.717,.202],[.951,.205],[.808,.204],[.812,.201],[.803,.198],[.626,.198],[.686,.200],[.687,.189],[.828,.192],[.858,.190],[.738,.189],[.709,.185],[.671,.186],[.669,.178],[.6,.179],[.995,.175],[.776,.174],[.691,.171],[.713,.168],[.604,.164],[.773,.163],[.811,.168],[.819,.165],[.939,.161],[.826,.154],[.639,.155],[.668,.155],[.783,.147],[.867,.148],[.816,.145],[.964,.144],[.661,.142],[.677,.145],[.690,.140],[.688,.137],[.636,.137],[.717,.136],[.751,.139],[.920,.137]];
const trainingMidRight = [[.606,.649],[.786,.653],[.702,.647],[.694,.638],[.690,.634],[.982,.632],[.608,.621],[.624,.623],[.629,.618],[.601,.617],[.975,.613],[.787,.598],[.671,.595],[.674,.586],[.755,.592],[.745,.586],[.913,.576],[.690,.576],[.853,.575],[.719,.572],[.928,.562],[.983,.562],[.939,.538],[.811,.533],[.848,.533],[.858,.524],[.978,.520],[.894,.518],[.870,.512],[.973,.508],[.737,.508],[.604,.502],[.758,.502],[.709,.498],[.779,.493],[.632,.490],[.653,.488],[.607,.479],[.693,.481],[.842,.475],[.877,.476],[.890,.477],[.635,.475],[.630,.468],[.769,.469],[.673,.465],[.616,.462],[.934,.461],[.661,.453],[.650,.449],[.806,.449],[.731,.440],[.752,.432],[.719,.423],[.716,.416],[.639,.424],[.691,.415],[.939,.416],[.767,.393],[.846,.389],[.977,.385],[.710,.385],[.720,.384],[.847,.368],[.940,.368],[.701,.359],[.632,.349],[.724,.350],[.602,.352],[.606,.349],[.825,.316],[.692,.314],[.697,.310],[.810,.308],[.841,.306],[.613,.306],[.627,.299],[.659,.298],[.743,.298],[.758,.291],[.607,.286],[.615,.282],[.686,.280],[.933,.280],[.805,.280],[.809,.274],[.864,.276],[.659,.272],[.818,.268],[.915,.265],[.716,.259],[.756,.262],[.756,.256],[.753,.246],[.765,.250],[.816,.253],[.858,.244],[.643,.238],[.690,.236],[.697,.234],[.791,.236],[.821,.231],[.847,.231],[.935,.225],[.609,.228],[.600,.224],[.610,.217],[.661,.213],[.684,.212],[.760,.211],[.637,.199],[.640,.199],[.676,.196],[.612,.194],[.648,.192],[.655,.192],[.644,.185],[.796,.185],[.651,.135],[.727,.131]];

const testingBottomLeft = [[-.019,.116],[.030,.119],[.057,.128],[.084,.128],[.033,.096],[-.047,.096],[.113,.106],[.111,.097],[.109,.087],[.165,.117],[.147,.111],[-.036,.084],[.055,.086],[.079,.085],[.153,.081],[-.060,.077],[-.117,.070],[.176,.069],[.194,.073],[-.197,.057],[-.118,.054],[-.006,.055],[.131,.060],[.118,.053],[.167,.056],[.089,.054],[.087,.048],[-.052,.044],[-.042,.041],[-.089,.036],[.141,.035],[.184,.042],[.180,.036],[.105,.033],[.104,.025],[-.054,.017],[-.047,.020],[-.042,.019],[-.027,.016],[.046,.015],[.094,.014],[.151,.011],[-.094,0],[.126,-.002],[-.043,-.005],[-.025,-.010],[.044,-.013],[.102,-.014],[.150,-.010],[.166,-.008],[.118,-.020],[.126,-.017],[.049,-.023],[-.022,-.028],[.187,-.028],[.146,-.029],[.102,-.035],[.123,-.036],[.193,-.040],[.179,-.043],[.138,-.045],[.063,-.047],[-.035,-.051],[.087,-.054],[.112,-.052],[.147,-.063],[.198,-.063],[.190,-.072],[.198,-.075],[.113,-.069],[.046,-.078],[.193,-.089],[-.161,-.099],[-.195,-.102],[.024,-.094],[.053,-.099],[.199,-.102],[-.078,-.114],[-.081,-.116],[.150,-.106],[.151,-.108],[-.186,-.118],[-.138,-.130],[.080,-.122],[.141,-.130],[.082,-.138],[.120,-.143],[.173,-.146],[.082,-.156],[.126,-.156],[.138,-.159],[-.083,-.163],[-.062,-.163],[.062,-.161],[.165,-.168],[.188,-.170],[.034,-.176],[.078,-.187],[.134,-.189],[.067,-.193],[.101,-.195],[.067,-.208],[.180,-.202],[.192,-.213],[.138,-.381],[.073,-.395]];
const trainingBottomLeft = [[-.122,.105],[.153,.102],[.197,.121],[-.097,.071],[-.006,.073],[.097,.076],[.120,.072],[.146,.070],[.083,.069],[.072,.062],[.086,.057],[.175,.058],[.182,.058],[-.159,.046],[-.098,.047],[-.005,.047],[.044,.043],[.093,.044],[.123,.023],[.103,.010],[.158,.007],[-.067,.005],[.005,-.004],[.027,-.008],[.061,-.009],[.176,-.012],[.131,-.016],[.133,-.022],[.165,-.023],[.200,-.021],[-.110,-.031],[.149,-.032],[.018,-.053],[.061,-.069],[.069,-.071],[.046,-.084],[-.062,-.092],[.112,-.107],[.198,-.122],[.074,-.131],[.051,-.136],[.173,-.140],[.123,-.146],[.106,-.151],[.085,-.176],[-.029,-.179],[.172,-.179],[-.062,-.192],[-.189,-.380],[.135,-.215]];

const testingBottomMid = [[.210,.126],[.227,.130],[.247,.114],[.295,.095],[.281,.085],[.259,.078],[.242,.080],[.242,.073],[.246,.074],[.249,.064],[.202,.080],[.207,.079],[.217,.079],[.294,.074],[.309,.071],[.355,.104],[.370,.093],[.359,.084],[.368,.081],[.380,.084],[.388,.100],[.395,.092],[.402,.098],[.408,.105],[.414,.123],[.421,.119],[.488,.107],[.487,.104],[.482,.094],[.497,.089],[.462,.092],[.453,.078],[.429,.075],[.475,.073],[.509,.074],[.515,.070],[.539,.072],[.575,.105],[.533,.114],[.578,.075],[.590,.080],[.599,.087],[.392,.068],[.361,.065],[.502,.057],[.239,.050],[.290,.047],[.348,.052],[.348,.044],[.398,.051],[.387,.049],[.383,.045],[.379,.036],[.421,.045],[.518,.043],[.537,.046],[.572,.041],[.597,.039],[.320,.035],[.350,.033],[.352,.025],[.361,.033],[.423,.031],[.423,.029],[.268,.028],[.236,.023],[.216,.017],[.331,.015],[.401,.015],[.451,.022],[.453,.013],[.497,.020],[.490,.014],[.484,.009],[.535,.027],[.550,.019],[.591,.015],[.239,.011],[.290,.008],[.293,.006],[.392,.002],[.415,.005],[.410,0],[.437,.008],[.575,.006],[.209,0],[.420,-.007],[.444,-.008],[.464,-.007],[.308,-.013],[.304,-.014],[.319,-.015],[.547,-.014],[.240,-.014],[.238,-.019],[.235,-.026],[.375,-.021],[.368,-.027],[.395,-.027],[.279,-.028],[.212,-.034],[.214,-.040],[.243,-.034],[.313,-.041],[.457,-.049],[.465,-.053],[.496,-.053],[.517,-.051],[.530,-.046],[.271,-.056],[.219,-.056],[.361,-.057],[.391,-.058],[.584,-.058],[.313,-.063],[.322,-.060],[.327,-.063],[.424,-.064],[.212,-.068],[.246,-.071],[.352,-.069],[.357,-.074],[.370,-.069],[.368,-.079],[.508,-.066],[.563,-.074],[.513,-.077],[.231,-.081],[.417,-.079],[.276,-.089],[.279,-.089],[.247,-.090],[.404,-.086],[.403,-.092],[.499,-.086],[.500,-.095],[.377,-.097],[.427,-.097],[.485,-.098],[.518,-.097],[.202,-.102],[.303,-.105],[.406,-.106],[.355,-.115],[.388,-.114],[.576,-.111],[.208,-.116],[.265,-.119],[.410,-.122],[.431,-.130],[.330,-.127],[.288,-.131],[.210,-.130],[.224,-.134],[.234,-.131],[.505,-.132],[.499,-.135],[.349,-.142],[.341,-.150],[.567,-.141],[.582,-.146],[.583,-.160],[.332,-.169],[.378,-.168],[.447,-.171],[.496,-.174],[.408,-.180],[.281,-.183],[.284,-.190],[.527,-.178],[.508,-.186],[.534,-.188],[.374,-.192],[.397,-.195],[.280,-.200],[.290,-.201],[.317,-.199],[.408,-.200],[.336,-.208],[.391,-.207],[.365,-.212],[.252,-.213],[.313,-.224],[.336,-.224],[.403,-.223],[.478,-.218],[.478,-.222],[.368,-.246],[.422,-.247],[.511,-.257],[.593,-.271],[.593,-.302],[.510,-.312],[.558,-.311],[.589,-.319],[.490,-.331],[.455,-.340],[.509,-.346],[.300,-.353],[.348,-.373],[.407,-.372],[.368,-.386],[.389,-.383],[.470,-.385],[.482,-.385]];
const trainingBottomMid = [[.205,.132],[.255,.128],[.284,.125],[.235,.117],[.238,.112],[.266,.107],[.285,.111],[.304,.115],[.314,.112],[.313,.108],[.325,.118],[.309,.097],[.345,.127],[.343,.121],[.420,.129],[.436,.129],[.411,.118],[.422,.116],[.421,.107],[.425,.097],[.474,.121],[.482,.120],[.550,.103],[.209,.086],[.217,.087],[.226,.088],[.246,.084],[.363,.080],[.508,.062],[.591,.066],[.580,.061],[.555,.056],[.547,.051],[.574,.047],[.208,.047],[.454,.042],[.333,.037],[.308,.036],[.291,.027],[.467,.023],[.530,.023],[.537,.020],[.266,.018],[.265,.006],[.352,.018],[.583,.011],[.597,.014],[.241,-.001],[.517,.002],[.334,0],[.335,-.005],[.338,-.003],[.561,-.008],[.303,-.016],[.302,-.027],[.591,-.015],[.492,-.020],[.341,-.021],[.201,-.021],[.501,-.025],[.283,-.025],[.274,-.037],[.507,-.037],[.361,-.034],[.540,-.030],[.292,-.043],[.453,-.053],[.522,-.056],[.238,-.058],[.341,-.064],[.529,-.065],[.219,-.068],[.281,-.069],[.231,-.073],[.473,-.079],[.520,-.080],[.374,-.085],[.433,-.088],[.446,-.093],[.294,-.092],[.306,-.093],[.268,-.096],[.529,-.099],[.403,-.107],[.572,-.109],[.340,-.117],[.432,-.116],[.542,-.123],[.468,-.125],[.308,-.131],[.411,-.131],[.447,-.134],[.271,-.140],[.237,-.144],[.302,-.145],[.430,-.138],[.213,-.148],[.214,-.159],[.474,-.163],[.534,-.162],[.491,-.167],[.326,-.188],[.216,-.190],[.475,-.201],[.449,-.210],[.205,-.209],[.251,-.215],[.436,-.227],[.535,-.233],[.530,-.248],[.286,-.251],[.459,-.271],[.463,-.283],[.429,-.304],[.525,-.312],[.368,-.330],[.408,-.341],[.319,-.382],[.222,-.379],[.381,-.390],[.584,-.385],[.470,-.393],[.561,-.394]];

const testingBottomRight = [[.606,.126],[.636,.133],[.665,.126],[.662,.120],[.612,.109],[.623,.111],[.629,.116],[.657,.101],[.707,.100],[.605,.093],[.603,.086],[.617,.091],[.710,.083],[.789,.079],[.855,.080],[.801,.065],[.832,.068],[.992,.073],[.748,.061],[.665,.057],[.882,.051],[.604,.048],[.610,.039],[.606,.029],[.645,.036],[.644,.032],[.651,.037],[.727,.036],[.769,.036],[.769,.028],[.855,.030],[.740,.030],[.653,.015],[.687,.018],[.667,.007],[.702,.010],[.613,.006],[.611,.003],[.631,.001],[.927,.006],[.927,0],[.906,0],[.787,-.005],[.782,-.013],[.783,-.018],[.835,-.007],[.838,-.010],[.910,-.013],[.624,-.010],[.628,-.017],[.685,-.014],[.665,-.017],[.660,-.022],[.724,-.025],[.609,-.029],[.608,-.036],[.657,-.043],[.707,-.045],[.748,-.040],[.820,-.040],[.973,-.039],[.759,-.053],[.669,-.051],[.681,-.053],[.688,-.052],[.694,-.058],[.620,-.067],[.634,-.068],[.688,-.066],[.744,-.071],[.736,-.076],[.771,-.080],[.770,-.098],[.624,-.097],[.603,-.105],[.654,-.119],[.687,-.119],[.688,-.127],[.632,-.122],[.650,-.131],[.630,-.135],[.603,-.139],[.771,-.144],[.652,-.152],[.839,-.171],[.943,-.154],[.634,-.177],[.724,-.176],[.729,-.181],[.624,-.191],[.706,-.202],[.883,-.205],[.897,-.207],[.627,-.209],[.664,-.216],[.682,-.214],[.820,-.218],[.787,-.233],[.797,-.261],[.610,-.288],[.644,-.294],[.684,-.308],[.955,-.307],[.623,-.336],[.793,-.335],[.674,-.363],[.689,-.367],[.698,-.370],[.696,-.377],[.705,-.373],[.774,-.376],[.818,-.372],[.648,-.382],[.750,-.391]];
const trainingBottomRight = [[.651,.131],[.698,.119],[.728,.127],[.672,.113],[.672,.105],[.723,.095],[.845,.096],[.939,.078],[.632,.065],[.671,.063],[.762,.063],[.760,.051],[.682,.046],[.604,.039],[.620,.039],[.694,.034],[.710,.033],[.788,.041],[.740,.027],[.747,.018],[.895,.029],[.611,.011],[.814,-.014],[.932,-.016],[.710,-.026],[.674,-.058],[.681,-.071],[.693,-.073],[.772,-.086],[.729,-.093],[.735,-.096],[.613,-.109],[.876,-.108],[.879,-.126],[.816,-.133],[.609,-.138],[.648,-.144],[.639,-.153],[.618,-.161],[.960,-.150],[.884,-.169],[.639,-.179],[.649,-.180],[.766,-.193],[.705,-.205],[.634,-.217],[.650,-.228],[.888,-.242],[.665,-.250],[.801,-.290],[.921,-.324],[.736,-.329],[.701,-.352],[.608,-.378]];

const toPoints = (lists: number[][][]) => lists.flat().map(([x, y]) => ({ x, y }));

const testingData = toPoints([testingTopLeft, testingTopMid, testingTopRight, testingMidLeft, testingCenter, testingMidRight, testingBottomLeft, testingBottomMid, testingBottomRight]);
const trainingData = toPoints([trainingTopLeft, trainingTopMid, trainingTopRight, trainingMidLeft, trainingCenter, trainingMidRight, trainingBottomLeft, trainingBottomMid, trainingBottomRight]);

const BLUE = "#1f77b4";
const FONT = "'DejaVu Sans', sans-serif";
const FONT_SIZE = 50;

// fill and edge overlap half way, that is what gives the ring look at alpha 0.7
const Dot = ({ cx, cy, color, alpha }: any) => (
  <circle cx={cx} cy={cy} r={4.8} fill={color} fillOpacity={alpha} stroke={color} strokeOpacity={alpha} strokeWidth={5} />
);

const fmt = (v: number) => (v < 0 ? "\u2212" : "") + Math.abs(v).toFixed(1);

const LegendBox = () => (
  <div
    style={{
      position: "relative",
      boxSizing: "border-box",
      width: 839,
      height: 164,
      background: "#fff",
      border: "4.2px solid #cccccc",
      borderRadius: 10,
      fontFamily: FONT,
      fontSize: FONT_SIZE,
      color: "#000",
      whiteSpace: "nowrap",
    }}
  >
    {[
      { label: testingLabel, color: BLUE, alpha: 0.7, top: 42 },
      { label: trainingLabel, color: "#000", alpha: 1, top: 115 },
    ].map((row) => (
      <div key={row.label} style={{ position: "absolute", left: 0, top: row.top, height: 0 }}>
        <svg width={30} height={30} style={{ position: "absolute", left: 52, top: -15 }}>
          <Dot cx={15} cy={15} color={row.color} alpha={row.alpha} />
        </svg>
        <span style={{ position: "absolute", left: 158, top: -29, lineHeight: "50px" }}>{row.label}</span>
      </div>
    ))}
  </div>
);

export default function App() {
  return (
    <div style={{ position: "absolute", left: 0, top: 0, width: 2494, height: 1802, background: "#fff" }}>
      <ScatterChart width={2494} height={1802} margin={{ top: 18, right: 36, bottom: 0, left: 0 }}>
        <XAxis
          type="number"
          dataKey="x"
          domain={[-0.2, 1]}
          ticks={xTicks}
          allowDataOverflow
          interval={0}
          tickFormatter={fmt}
          height={153}
          stroke="#000"
          strokeWidth={4}
          tickSize={17.5}
          tickMargin={20}
          tick={{ fill: "#000", fontSize: FONT_SIZE, fontFamily: FONT }}
          label={{ value: "theta_0", position: "insideBottom", offset: 11, fill: "#000", fontSize: FONT_SIZE, fontFamily: FONT }}
        />
        <YAxis
          type="number"
          dataKey="y"
          domain={[-0.4, 1.2]}
          ticks={yTicks}
          allowDataOverflow
          interval={0}
          tickFormatter={fmt}
          width={226}
          stroke="#000"
          strokeWidth={4}
          tickSize={17.5}
          tickMargin={18}
          tick={{ fill: "#000", fontSize: FONT_SIZE, fontFamily: FONT }}
          label={{ value: "theta_1", angle: -90, position: "insideLeft", offset: 22, fill: "#000", fontSize: FONT_SIZE, fontFamily: FONT, style: { textAnchor: "middle" } }}
        />
        <Scatter name={testingLabel} data={testingData} isAnimationActive={false} shape={(p: any) => <Dot cx={p.cx} cy={p.cy} color={BLUE} alpha={0.7} />} />
        <Scatter name={trainingLabel} data={trainingData} isAnimationActive={false} shape={(p: any) => <Dot cx={p.cx} cy={p.cy} color="#000" alpha={1} />} />
        <ReferenceLine x={1} stroke="#000" strokeWidth={4} />
        <ReferenceLine y={1.2} stroke="#000" strokeWidth={4} />
        <Legend
          layout="vertical"
          align="center"
          verticalAlign="middle"
          content={<LegendBox />}
          wrapperStyle={{ left: 250, top: 1462, width: 839, height: 164, margin: 0 }}
        />
      </ScatterChart>
    </div>
  );
}
